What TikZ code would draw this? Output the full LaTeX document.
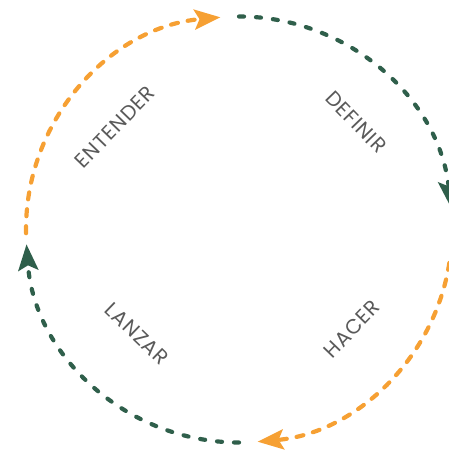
\documentclass[tikz,border=0pt]{standalone}
\usepackage{fontspec}
\setmainfont{Poppins}
\usetikzlibrary{arrows.meta}
\definecolor{cycorange}{HTML}{F6A033}
\definecolor{cycgreen}{HTML}{2F5F4B}
\definecolor{labelgray}{HTML}{5A5A5A}
\tikzset{
  ring/.style={line width=4.2pt, line cap=round,
    -{Stealth[length=26pt,width=20pt,inset=5pt]}},
  orangering/.style={ring, draw=cycorange, fill=none,
    dash pattern=on 7pt off 10pt},
  greenring/.style={ring, draw=cycgreen,
    dash pattern=on 5pt off 12pt},
  phase/.style={text=labelgray, inner sep=1pt,
    font=\fontsize{20.5}{24}\selectfont\addfontfeatures{LetterSpace=4}}
}
\begin{document}
\begin{tikzpicture}[x=1pt,y=1pt]
  \useasboundingbox (0,0) rectangle (449,-452);
  \coordinate (C) at (239,-229.5);
  % four dashed quarter arcs of the cycle
  \draw[orangering] ([shift={(181:213)}]C) arc[start angle=181,end angle=95,radius=213];
  \draw[greenring]  ([shift={(90:213)}]C)  arc[start angle=90,end angle=6,radius=213];
  \draw[orangering] ([shift={(-9:213)}]C)  arc[start angle=-9,end angle=-85,radius=213];
  \draw[greenring]  ([shift={(-90:213)}]C) arc[start angle=-90,end angle=-176,radius=213];
  % phase labels
  \node[phase, rotate=46]  (entender) at (115,-127) {ENTENDER};
  \node[phase, rotate=-46] (definir)  at (356,-122) {DEFINIR};
  \node[phase, rotate=46]  (hacer)    at (352,-329) {HACER};
  \node[phase, rotate=-44] (lanzar)   at (137,-334) {LANZAR};
\end{tikzpicture}
\end{document}
